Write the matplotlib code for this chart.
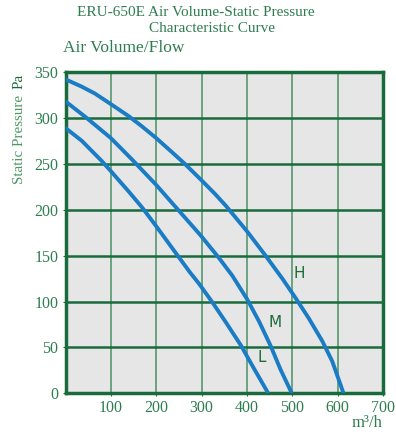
import numpy as np
import matplotlib.pyplot as plt

# curve readings (air volume m3/h, static pressure Pa)
h_flow = [0, 36, 65, 100, 139, 168, 200, 234, 263, 300, 330, 354, 401, 441, 478, 507, 536, 566, 588, 613]
h_pres = [342, 334, 326.5, 315, 302, 291, 278, 263, 250, 232, 217, 204, 176, 150, 125, 104, 82, 57, 35, 0]

m_flow = [0, 44, 100, 146, 200, 248, 298, 339, 368, 401, 427, 452, 474, 499]
m_pres = [318, 301, 278, 255, 227, 200, 172, 147, 128, 102, 78, 52, 26, 0]

l_flow = [0, 36, 80, 100, 139, 168, 200, 234, 274, 295, 324, 354, 387, 412, 447]
l_pres = [289, 275, 253, 242, 220, 203, 182, 159, 132, 119, 99, 77, 52, 30, 0]

curve_labels = ["H", "M", "L"]
label_pos = [(515, 131), (463, 77), (432, 39)]

x_ticks = [100, 200, 300, 400, 500, 600, 700]
y_ticks = [0, 50, 100, 150, 200, 250, 300, 350]

dark = '#1a6b3c'
mid = '#2e7d4f'
light = '#4c9a64'
blue = '#1a7cc4'

fig = plt.figure(figsize=(3.96, 4.32), dpi=100)
ax = fig.add_axes([65.5 / 396, 1 - 393.3 / 432, (383 - 65.5) / 396, (393.3 - 72) / 432])
ax.set_facecolor('#e6e6e6')
ax.set_xlim(0, 700)
ax.set_ylim(0, 350)

# grid
for x in x_ticks[:-1]:
    ax.axvline(x, color='#5f9e75', lw=1.3, zorder=1)
for y in y_ticks[1:-1]:
    ax.axhline(y, color=dark, lw=1.8, zorder=1)

for fl, pr in [(h_flow, h_pres), (m_flow, m_pres), (l_flow, l_pres)]:
    ax.plot(fl, pr, color=blue, lw=2.8, zorder=3, solid_capstyle='butt', solid_joinstyle='round')

for lab, (x, y) in zip(curve_labels, label_pos):
    ax.text(x, y, lab, color=dark, fontsize=11, family='DejaVu Sans',
            ha='center', va='center', zorder=4)

for s in ax.spines.values():
    s.set_color(dark)
    s.set_linewidth(2.5)

ax.set_xticks(x_ticks)
ax.set_yticks(y_ticks)
ax.tick_params(length=2, color=dark, labelcolor=mid, labelsize=11.5, pad=3)
for t in ax.get_xticklabels() + ax.get_yticklabels():
    t.set_family('Liberation Serif')

fig.text(195.5 / 396, 1 - 12 / 432, 'ERU-650E Air Volume-Static Pressure', ha='center', va='center',
         color=mid, fontsize=11, family='Liberation Serif')
fig.text(212 / 396, 1 - 28 / 432, 'Characteristic Curve', ha='center', va='center',
         color=mid, fontsize=11, family='Liberation Serif')
fig.text(63 / 396, 1 - 48 / 432, 'Air Volume/Flow', ha='left', va='center',
         color=mid, fontsize=12.5, family='Liberation Serif')

fig.text(20 / 396, 1 - 139 / 432, 'Static Pressure', rotation=90, ha='center', va='center',
         color=light, fontsize=10.8, family='Liberation Serif')
fig.text(19 / 396, 1 - 81 / 432, 'Pa', rotation=90, ha='center', va='center',
         color=dark, fontsize=10.8, family='Liberation Serif')
fig.text(367 / 396, 1 - 423 / 432, 'm³/h', ha='center', va='center',
         color=mid, fontsize=12, family='Liberation Serif')

fig.savefig('out.png', dpi=100)
